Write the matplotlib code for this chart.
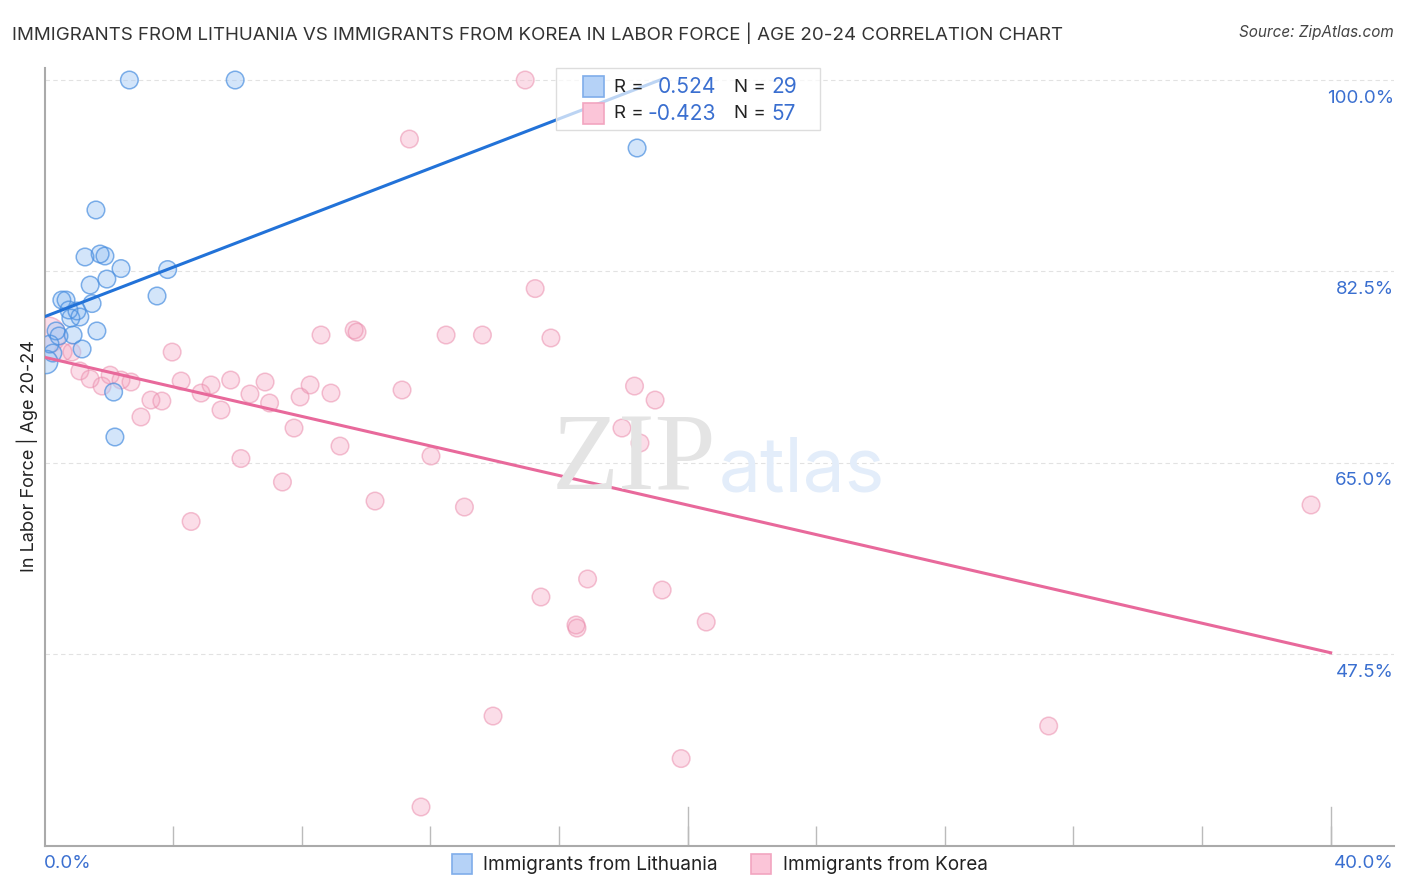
import matplotlib
matplotlib.use("Agg")
import matplotlib.pyplot as plt
from matplotlib.patches import Rectangle

plt.rcParams['font.family'] = ['Inter', 'DejaVu Sans']

# immigrants from lithuania
lith_x = [2.64, 5.93, 18.43, 1.60, 1.26, 1.73, 1.88, 2.38, 3.83, 1.94, 1.42, 3.50, 0.54, 0.67, 1.48,
          0.76, 1.01, 0.82, 1.10, 1.63, 0.36, 0.45, 0.89, 1.17, 0.17, 0.26, 0.05, 2.15, 2.19]
lith_y = [100, 100, 93.78, 88.11, 83.81, 84.08, 83.90, 82.75, 82.66, 81.79, 81.24, 80.24, 79.87, 79.87, 79.55,
          78.96, 78.87, 78.22, 78.32, 77.04, 77.04, 76.58, 76.67, 75.39, 75.85, 75.02, 74.2, 71.45, 67.34]
lith_s = [160] * 26 + [280, 160, 160]

# immigrants from korea
korea_x = [14.95, 11.35, 15.26, 8.60, 9.63, 9.72, 12.49, 13.62, 15.75, 3.97, 0.10, 0.58, 0.85, 1.10, 1.42,
           1.79, 2.04, 2.38, 2.69, 3.00, 3.31, 3.65, 4.25, 4.87, 5.18, 5.49, 5.79, 6.39, 6.86, 7.00,
           7.95, 8.26, 8.91, 7.76, 9.19, 6.11, 7.40, 4.56, 10.28, 11.12, 12.02, 13.06, 18.35, 18.99, 17.96,
           18.52, 39.39, 16.89, 15.44, 19.21, 16.53, 16.56, 20.58, 13.95, 31.23, 19.80, 11.71]
korea_y = [100, 94.6, 80.92, 76.67, 77.13, 76.94, 76.67, 76.67, 76.4, 75.11, 76.67, 75.11, 75.11, 73.38, 72.65,
           72.0, 73.0, 72.55, 72.37, 69.17, 70.72, 70.63, 72.46, 71.36, 72.1, 69.81, 72.55, 71.27, 72.37, 70.45,
           71.0, 72.1, 71.36, 68.16, 66.51, 65.37, 63.22, 59.61, 61.48, 71.64, 65.6, 60.93, 72.0, 70.72, 68.16,
           66.79, 61.12, 54.35, 52.7, 53.34, 50.14, 49.86, 50.41, 41.81, 40.9, 37.92, 33.49]
korea_s = [160] * 10 + [670] + [160] * 46

# trend lines
lith_trend_x = [0.05, 19.14]
lith_trend_y = [78.4, 100]
korea_trend_x = [0.05, 40]
korea_trend_y = [74.6, 47.6]

y_grid = [100, 82.5, 65, 47.5]
y_labels = ['100.0%', '82.5%', '65.0%', '47.5%']
x_ticks = [4, 8, 12, 16, 20, 24, 28, 32, 36, 40]
x_major = [20, 40]

BLUE = '#4a8fe0'
BLUE_FILL = '#a9ccf6'
PINK = '#eb8fae'
PINK_FILL = '#f8bdd2'
BLUE_TXT = '#3a6fd0'
DARK = '#222222'
W, H = 1406, 892

fig = plt.figure(figsize=(14.06, 8.92), dpi=100)
ax = fig.add_axes([44.5 / W, 1 - 846 / H, (1394 - 44.5) / W, (846 - 68) / H])
ax.set_xlim(0, 41.97)
ax.set_ylim(29.92, 101.1)

for s in ['top', 'right']:
    ax.spines[s].set_visible(False)
for s in ['left', 'bottom']:
    ax.spines[s].set_color('#aaaaaa')
    ax.spines[s].set_linewidth(1.5)

for v in y_grid:
    ax.axhline(v, color='#e2e2e2', lw=0.8, ls=(0, (4, 3)), zorder=1)

ax.set_yticks([])
ax.set_xticks(x_ticks)
ax.set_xticklabels([])
ax.tick_params(axis='x', direction='in', length=14.5, width=1, color='#bbbbbb')
for v in x_major:
    ax.plot([v, v], [0, 0.05], transform=ax.get_xaxis_transform(), color='#bbbbbb', lw=1, zorder=1)

# watermark
fig.text(634 / W, 1 - 490 / H, 'ZIP', fontsize=79, family='Liberation Serif',
         color='#e4e4e4', ha='center', va='baseline', zorder=1)
fig.text(802 / W, 1 - 491 / H, 'atlas', fontsize=54, color='#e3edfa',
         ha='center', va='baseline', zorder=1)

ax.scatter(korea_x, korea_y, s=korea_s, facecolor=PINK_FILL, edgecolor='none', alpha=0.5, zorder=3)
ax.scatter(korea_x, korea_y, s=korea_s, facecolor='none', edgecolor=PINK, alpha=0.55, lw=1.1, zorder=3)
ax.scatter(lith_x, lith_y, s=lith_s, facecolor=BLUE_FILL, edgecolor='none', alpha=0.5, zorder=4)
ax.scatter(lith_x, lith_y, s=lith_s, facecolor='none', edgecolor=BLUE, alpha=0.7, lw=1.1, zorder=4)

ax.plot(lith_trend_x, lith_trend_y, color='#2272d8', lw=2.2, zorder=5)
ax.plot(korea_trend_x, korea_trend_y, color='#e8699b', lw=2.2, zorder=5)

for v, lab in zip(y_grid, y_labels):
    ax.annotate(lab, (1, v), xycoords=ax.get_yaxis_transform(), xytext=(0, -13.2), textcoords='offset points',
                ha='right', va='center', color=BLUE_TXT, fontsize=13.5)

# stats box, sits over the line and points
fig.add_artist(Rectangle((556 / W, 1 - 130 / H), 264 / W, 62 / H, transform=fig.transFigure,
                         facecolor='white', alpha=0.7, edgecolor='none', zorder=6))
fig.add_artist(Rectangle((556 / W, 1 - 130 / H), 264 / W, 62 / H, transform=fig.transFigure,
                         facecolor='none', edgecolor='#dddddd', lw=1, zorder=6))


def swatch(x0, y0, size, fill, edge):
    fig.add_artist(Rectangle((x0 / W, 1 - (y0 + size) / H), size / W, size / H, transform=fig.transFigure,
                             facecolor=fill, edgecolor=edge, lw=1.2, zorder=7))


def label(x, y, s, **kw):
    fig.text(x / W, 1 - y / H, s, va='center', zorder=8, **kw)


swatch(583, 76, 21, '#b5d2f7', '#7fadea')
swatch(583, 103, 21, '#fbc5d8', '#f2a5c0')
label(614, 87, 'R =', color=DARK, fontsize=13.5)
label(614, 114, 'R =', color=DARK, fontsize=13.5)
label(716, 87, '0.524', color=BLUE_TXT, fontsize=15.2, ha='right')
label(716, 114, '-0.423', color=BLUE_TXT, fontsize=15.2, ha='right')
label(734, 87, 'N =', color=DARK, fontsize=13.5)
label(734, 114, 'N =', color=DARK, fontsize=13.5)
label(771, 87, '29', color=BLUE_TXT, fontsize=15)
label(771, 114, '57', color=BLUE_TXT, fontsize=15)

label(12, 33, 'IMMIGRANTS FROM LITHUANIA VS IMMIGRANTS FROM KOREA IN LABOR FORCE | AGE 20-24 CORRELATION CHART',
      color='#333333', fontsize=13.5)
label(1394, 33, 'Source: ZipAtlas.com', color='#444444', fontsize=11, ha='right', style='italic')
label(44, 864, '0.0%', color=BLUE_TXT, fontsize=13.5)
label(1394, 864, '40.0%', color=BLUE_TXT, fontsize=13.5, ha='right')

swatch(452, 854, 20, '#b5d2f7', '#7fadea')
swatch(751, 854, 20, '#fbc5d8', '#f2a5c0')
label(483, 865, 'Immigrants from Lithuania', color=DARK, fontsize=13.7)
label(783, 865, 'Immigrants from Korea', color=DARK, fontsize=13.6)

fig.text(27 / W, 1 - 456 / H, 'In Labor Force | Age 20-24', rotation=90, ha='center', va='center',
         color=DARK, fontsize=13)

fig.savefig('out.png', dpi=100)
